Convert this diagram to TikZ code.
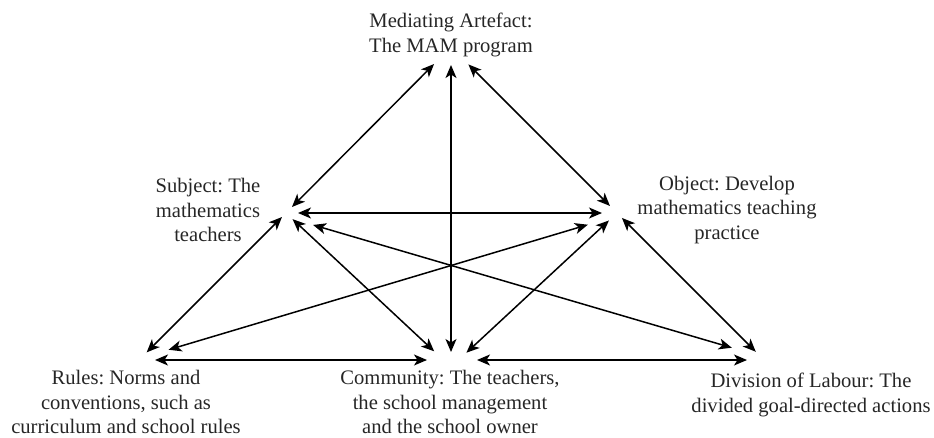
\documentclass[tikz,border=0pt]{standalone}
\usepackage{fontspec}
\setmainfont{Liberation Serif}
\usetikzlibrary{arrows.meta}
\frenchspacing

\tikzset{
  label/.style={align=center, inner sep=0pt, font=\fontsize{20.6pt}{24.5pt}\selectfont, text=black!85},
  link/.style={{Stealth[length=13pt,width=11pt,inset=3.5pt]}-{Stealth[length=13pt,width=11pt,inset=3.5pt]}, line width=1.5pt}
}

\begin{document}
\begin{tikzpicture}[x=1pt, y=-1pt]
  \useasboundingbox (0,0) rectangle (934,437);

  % concept labels
  \node[label] (mediating) at (451,35) {Mediating Artefact:\\The MAM program};
  \node[label] (subject)   at (208,210) {Subject: The\\mathematics\\teachers};
  \node[label] (object)    at (727,210) {Object: Develop\\mathematics teaching\\practice};
  \node[label] (rules)     at (126,402) {Rules: Norms and\\conventions, such as\\curriculum and school rules};
  \node[label] (community) at (450,402) {Community: The teachers,\\the school management\\and the school owner};
  \node[label] (division)  at (811,395) {Division of Labour: The\\divided goal-directed actions};

  % meeting points of the arrows for each concept
  \coordinate (M) at (451,47);
  \coordinate (S) at (286,213);
  \coordinate (O) at (617,213);
  \coordinate (R) at (141,358);
  \coordinate (C) at (451,367);
  \coordinate (D) at (760,356);

  % mediating artefact
  \draw[link, shorten <=24pt, shorten >=8.5pt] (M) -- (S);
  \draw[link, shorten <=18pt, shorten >=15pt] (M) -- (C);
  \draw[link, shorten <=24.7pt, shorten >=10pt] (M) -- (O);

  % subject
  \draw[link, shorten <=12pt, shorten >=15pt] (S) -- (O);
  \draw[link, shorten <=5.7pt, shorten >=8pt] (S) -- (R);
  \draw[link, shorten <=9pt, shorten >=23pt] (S) -- (C);
  \draw[link, shorten <=28.2pt, shorten >=29.4pt] ([yshift=-4pt]S) -- (D);

  % object
  \draw[link, shorten <=30.4pt, shorten >=28.8pt] ([yshift=-3pt]O) -- (R);
  \draw[link, shorten <=11pt, shorten >=21pt] (O) -- (C);
  \draw[link, shorten <=7pt, shorten >=6pt] (O) -- (D);

  % bottom row
  \draw[link, shorten <=14pt, shorten >=24pt] ([yshift=-2pt]R) -- ([yshift=7pt]C);
  \draw[link, shorten <=26pt, shorten >=13pt] ([yshift=7pt]C) -- ([yshift=-4pt]D);
\end{tikzpicture}
\end{document}
